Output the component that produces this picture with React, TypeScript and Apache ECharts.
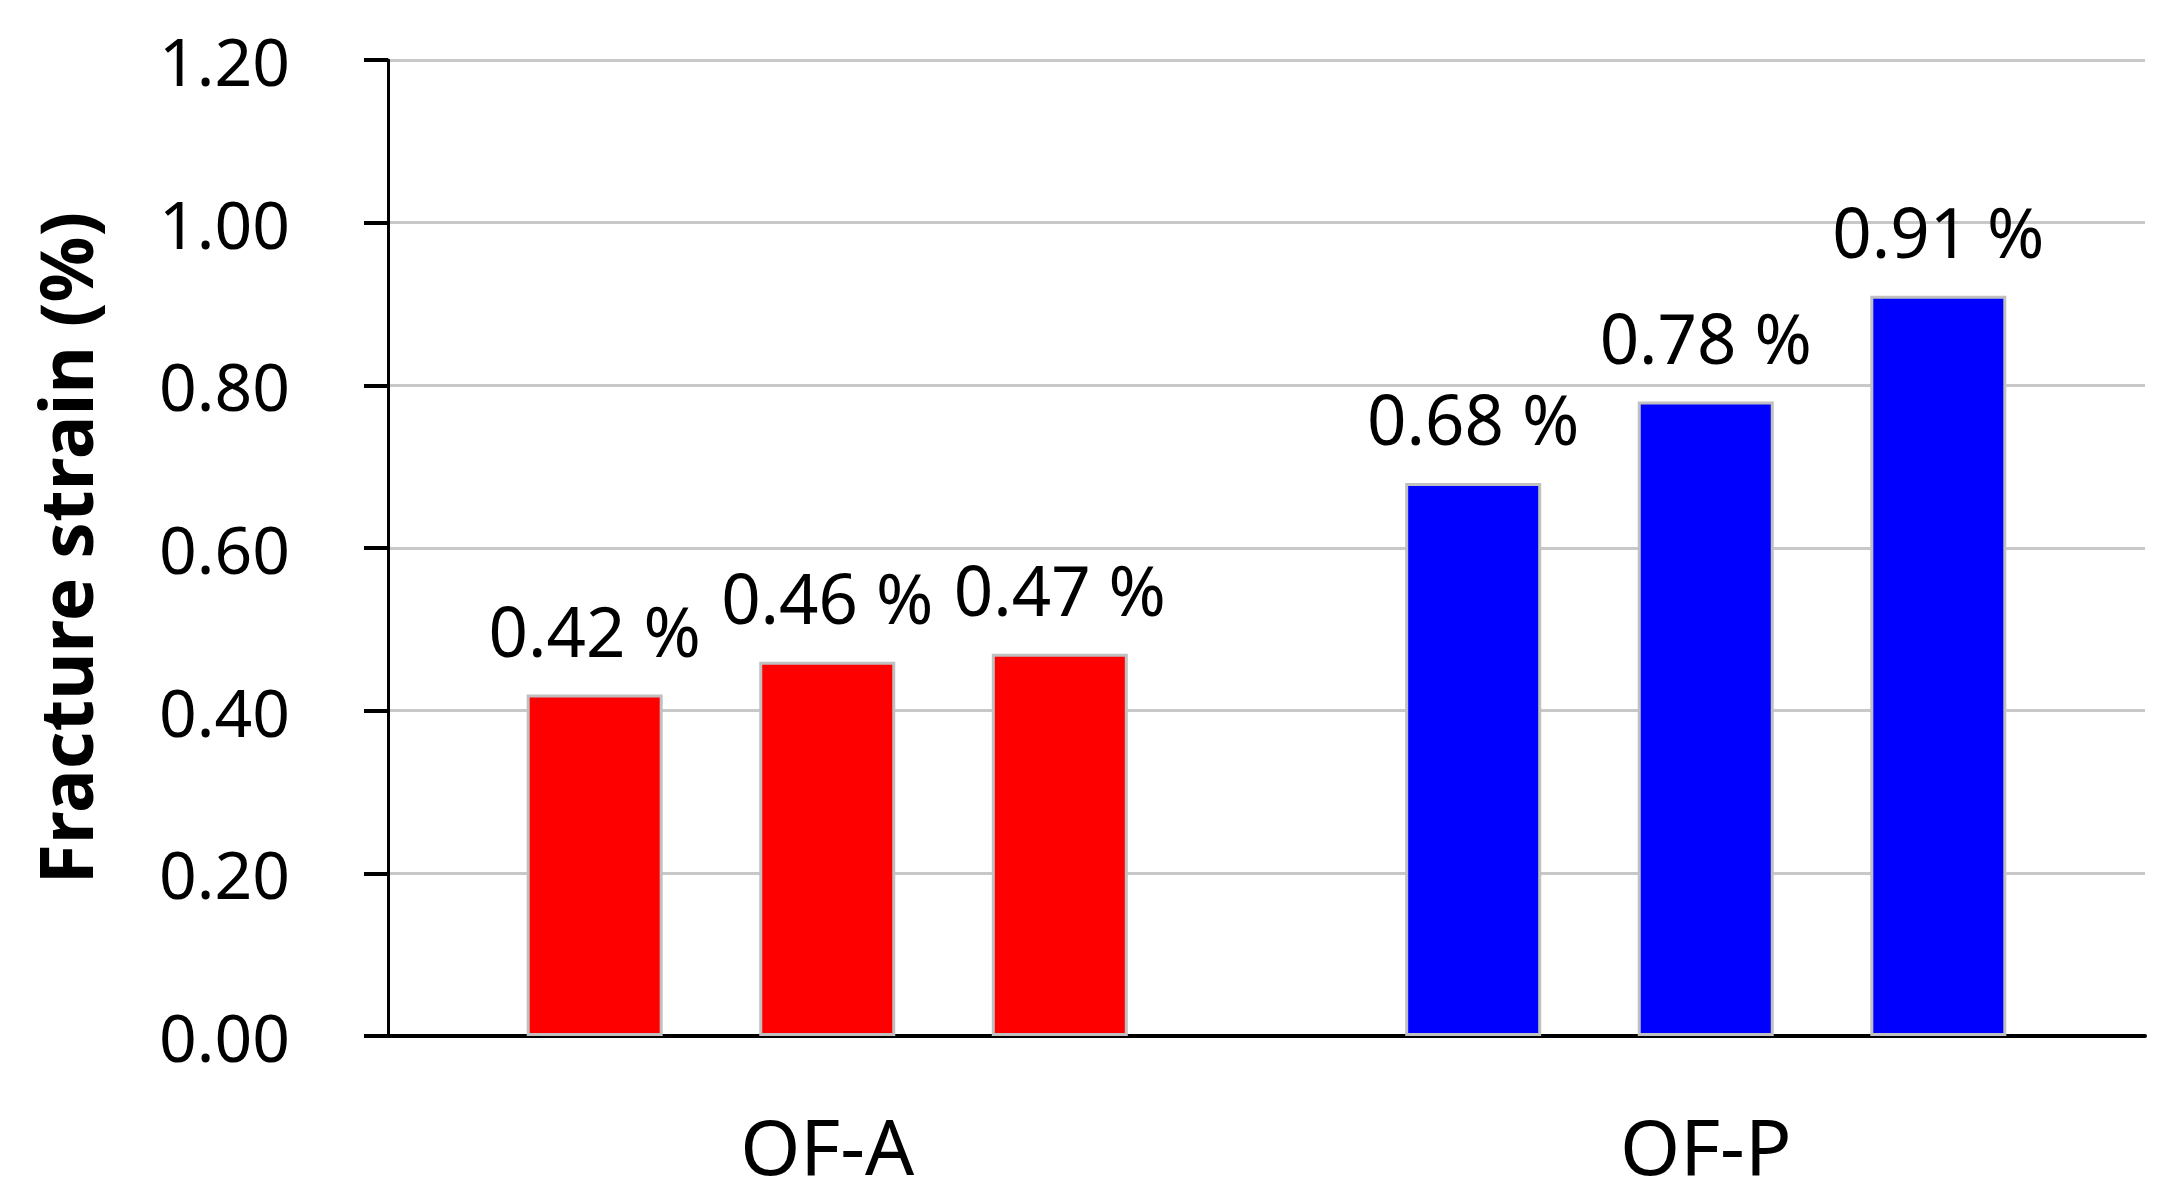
import React, { useEffect, useRef } from "react";
import * as echarts from "echarts";

const categories = ["OF-A", "OF-P"];
const sample1 = [0.42, 0.68];
const sample2 = [0.46, 0.78];
const sample3 = [0.47, 0.91];
const categoryColors = ["#ff0000", "#0000ff"];
const yTicks = [0, 0.2, 0.4, 0.6, 0.8, 1.0, 1.2];
const yTitle = "Fracture strain (%)";

const FONT = "'Noto Sans', 'Open Sans', sans-serif";

function makeSeries(values: number[]) {
  return {
    type: "bar",
    barWidth: 136,
    barGap: "71%",
    data: values.map((v, i) => ({
      value: v,
      itemStyle: { color: categoryColors[i] },
    })),
    itemStyle: { borderColor: "#c0c0c0", borderWidth: 3 },
    label: {
      show: true,
      position: "top",
      distance: 30,
      color: "#000",
      fontFamily: FONT,
      fontSize: 69,
      formatter: (p: any) => p.value.toFixed(2) + " %",
    },
  };
}

export default function App() {
  const ref = useRef<HTMLDivElement>(null);
  useEffect(() => {
    if (!ref.current) return;
    const chart = echarts.init(ref.current, undefined, { renderer: "svg" });
    chart.setOption({
      animation: false,
      backgroundColor: "#ffffff",
      grid: { left: 388, right: 26, top: 60, bottom: 161, containLabel: false },
      xAxis: {
        type: "category",
        data: categories,
        axisLine: { show: true, lineStyle: { color: "#000", width: 4 } },
        axisTick: { show: false },
        axisLabel: {
          color: "#000",
          fontFamily: FONT,
          fontSize: 77,
          margin: 71,
        },
        splitLine: { show: false },
      },
      yAxis: {
        type: "value",
        min: 0,
        max: yTicks[yTicks.length - 1],
        interval: 0.2,
        name: yTitle,
        nameLocation: "middle",
        nameRotate: 90,
        nameGap: 287,
        nameTextStyle: {
          color: "#000",
          fontFamily: FONT,
          fontWeight: "bold",
          fontSize: 73,
        },
        axisLine: { show: true, lineStyle: { color: "#000", width: 3 } },
        axisTick: {
          show: true,
          inside: false,
          length: 24,
          lineStyle: { color: "#000", width: 4 },
        },
        axisLabel: {
          color: "#000",
          fontFamily: FONT,
          fontSize: 66,
          margin: 98,
          formatter: (v: number) => v.toFixed(2),
        },
        splitLine: { show: true, lineStyle: { color: "#c8c8c8", width: 3 } },
      },
      series: [makeSeries(sample1), makeSeries(sample2), makeSeries(sample3)],
    });
    return () => chart.dispose();
  }, []);
  return (
    <div
      ref={ref}
      style={{ position: "fixed", left: 0, top: 0, width: 2171, height: 1197, background: "#fff" }}
    />
  );
}
